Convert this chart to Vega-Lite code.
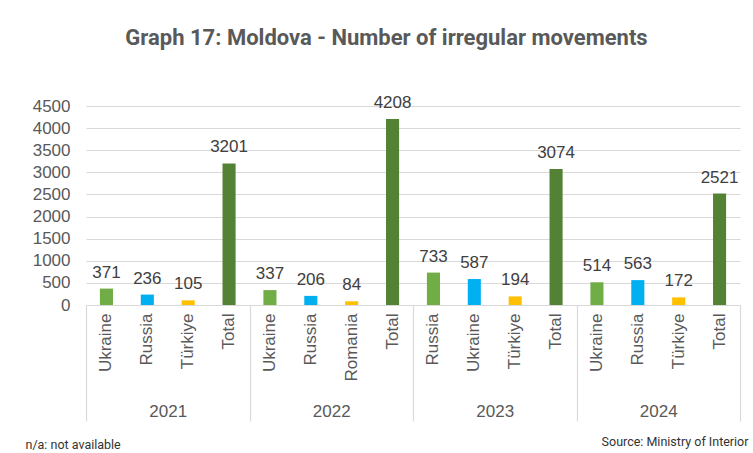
{
  "$schema": "https://vega.github.io/schema/vega-lite/v6.json",
  "width": 654,
  "height": 199,
  "padding": {"left": 25, "top": 26, "right": 5, "bottom": 2},
  "background": "white",
  "title": {
    "text": "Graph 17: Moldova - Number of irregular movements",
    "font": "Roboto",
    "fontSize": 22,
    "fontWeight": "bold",
    "color": "#595959",
    "anchor": "middle",
    "frame": "bounds",
    "offset": 44
  },
  "config": {
    "view": {"stroke": null},
    "font": "Liberation Sans",
    "axis": {"labelFont": "Liberation Sans", "labelColor": "#595959", "titleFont": "Roboto", "titleColor": "#333333", "titleFontWeight": "normal"}
  },
  "layer": [
    {
      "data": {"values": [
        {"slot": "2021|Ukraine", "pos": "1", "value": 371},
        {"slot": "2021|Russia", "pos": "2", "value": 236},
        {"slot": "2021|Türkiye", "pos": "3", "value": 105},
        {"slot": "2021|Total", "pos": "4", "value": 3201},
        {"slot": "2022|Ukraine", "pos": "1", "value": 337},
        {"slot": "2022|Russia", "pos": "2", "value": 206},
        {"slot": "2022|Romania", "pos": "3", "value": 84},
        {"slot": "2022|Total", "pos": "4", "value": 4208},
        {"slot": "2023|Russia", "pos": "1", "value": 733},
        {"slot": "2023|Ukraine", "pos": "2", "value": 587},
        {"slot": "2023|Türkiye", "pos": "3", "value": 194},
        {"slot": "2023|Total", "pos": "4", "value": 3074},
        {"slot": "2024|Ukraine", "pos": "1", "value": 514},
        {"slot": "2024|Russia", "pos": "2", "value": 563},
        {"slot": "2024|Türkiye", "pos": "3", "value": 172},
        {"slot": "2024|Total", "pos": "4", "value": 2521}
      ]},
      "encoding": {
        "x": {
          "field": "slot", "type": "nominal", "sort": null,
          "scale": {"paddingInner": 0.68, "paddingOuter": 0.34},
          "axis": {
            "title": "n/a: not available",
            "titleAnchor": "start", "titleAlign": "left", "titleBaseline": "middle",
            "titleX": -61, "titleY": 139, "titleFontSize": 12.5,
            "labelExpr": "split(datum.label, '|')[1]",
            "labelAngle": -90, "labelFontSize": 17, "labelPadding": 8,
            "ticks": false, "domain": true, "domainColor": "#d9d9d9", "domainWidth": 1.2, "grid": false
          }
        },
        "y": {
          "field": "value", "type": "quantitative",
          "scale": {"domain": [0, 4500], "nice": false},
          "axis": {
            "title": null, "values": [0, 500, 1000, 1500, 2000, 2500, 3000, 3500, 4000, 4500],
            "format": "d",
            "labelFontSize": 17, "labelPadding": 16, "ticks": false, "domain": false,
            "grid": true, "gridColor": "#d9d9d9", "gridWidth": 1.2
          }
        }
      },
      "layer": [
        {
          "mark": {"type": "bar"},
          "encoding": {
            "color": {"field": "pos", "type": "nominal", "legend": null,
              "scale": {"domain": ["1", "2", "3", "4"], "range": ["#70AD47", "#00B0F0", "#FFC000", "#548235"]}}
          }
        },
        {
          "mark": {"type": "text", "baseline": "bottom", "dy": -7, "fontSize": 17, "color": "#404040", "font": "Liberation Sans"},
          "encoding": {"text": {"field": "value", "type": "quantitative", "format": "d"}}
        }
      ]
    },
    {
      "data": {"values": [{"year": "2021"}, {"year": "2022"}, {"year": "2023"}, {"year": "2024"}]},
      "mark": {"type": "point", "opacity": 0},
      "encoding": {
        "x": {
          "field": "year", "type": "nominal",
          "scale": {"paddingInner": 0, "paddingOuter": 0},
          "axis": {
            "orient": "bottom", "title": "Source: Ministry of Interior",
            "titleAnchor": "end", "titleAlign": "right", "titleBaseline": "middle",
            "titleX": 662, "titleY": 136, "titleFontSize": 12.5,
            "labelAngle": 0, "labelFontSize": 17, "labelPadding": -18,
            "tickBand": "extent", "tickSize": 116, "tickColor": "#d9d9d9", "tickWidth": 1.2,
            "domain": false, "grid": false
          }
        }
      }
    }
  ],
  "resolve": {"scale": {"x": "independent"}, "axis": {"x": "independent"}}
}
